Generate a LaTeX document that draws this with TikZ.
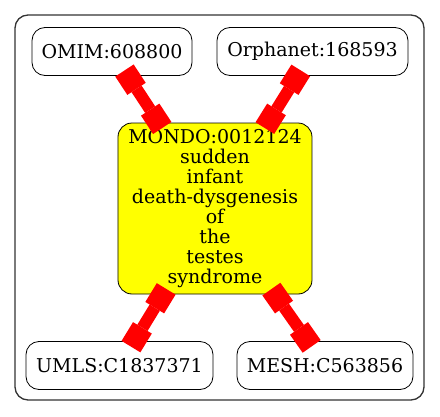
\documentclass[tikz,border=0pt]{standalone}
\usepackage{fontspec}
\setmainfont{DejaVu Serif}
\usetikzlibrary{arrows.meta}
\definecolor{gvyellow}{RGB}{255,255,0}
\definecolor{gvred}{RGB}{255,0,0}
\begin{document}
\begin{tikzpicture}[node distance=157pt,xref/.style={rectangle, rounded corners=13pt, draw=black, fill=white, line width=0.8pt, outer sep=0pt, inner sep=0pt, minimum height=48pt, font=\fontsize{19}{20}\selectfont},disease/.style={rectangle, rounded corners=14pt, draw=black, fill=gvyellow, line width=0.8pt, outer sep=0pt, inner sep=0pt, minimum width=194pt, minimum height=171pt, align=center, font=\fontsize{19}{20}\selectfont},link/.style={draw=gvred, line width=12pt, {Square[length=22pt,width=22pt,line width=0pt]}-{Square[length=22pt,width=22pt,line width=0pt]}, shorten <=-6pt, shorten >=-6pt},]
                    \useasboundingbox (-215pt,208.5pt) rectangle (225pt,-207.5pt);
                    \draw[draw=black!80, line width=1.3pt, rounded corners=13pt] (-200pt,193.5pt) rectangle (209pt,-191.5pt);
                    \node[disease] (mondo) {MONDO:0012124\\sudden\\infant\\death-dysgenesis\\of\\the\\testes\\syndrome};
                    \node[xref, minimum width=160pt, above of=mondo, xshift=-103pt] (omim) {OMIM:608800};
                    \node[xref, minimum width=191pt, above of=mondo, xshift=97.5pt] (orphanet) {Orphanet:168593};
                    \node[xref, minimum width=187pt, below of=mondo, xshift=-95.5pt] (umls) {UMLS:C1837371};
                    \node[xref, minimum width=176pt, below of=mondo, xshift=110pt] (mesh) {MESH:C563856};
                    \draw[link] (omim) -- (mondo);
                    \draw[link] (orphanet) -- (mondo);
                    \draw[link] (mondo) -- (umls);
                    \draw[link] (mondo) -- (mesh);
                \end{tikzpicture}
\end{document}
